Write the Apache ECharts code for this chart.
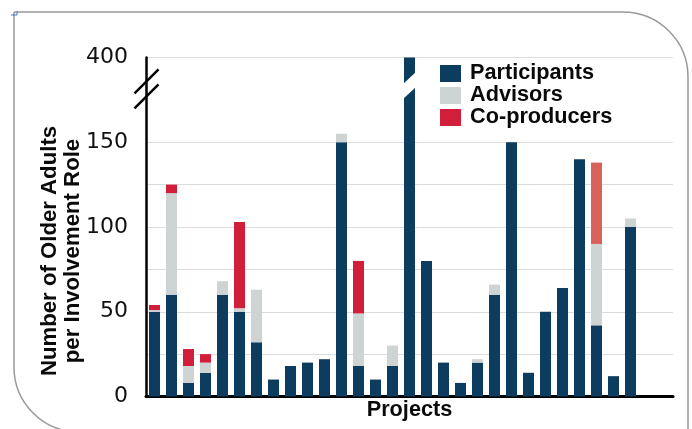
<!DOCTYPE html>
<html>
<head>
<meta charset="utf-8">
<script src="https://cdn.jsdelivr.net/npm/echarts@6/dist/echarts.min.js"></script>
<style>
html,body{margin:0;padding:0;background:#fff;}
#chart{width:692px;height:429px;}
</style>
</head>
<body>
<div id="chart"></div>
<script>
// ---- data ----
const categories = ['P1','P2','P3','P4','P5','P6','P7','P8','P9','P10','P11','P12','P13','P14','P15','P16','P17','P18','P19','P20','P21','P22','P23','P24','P25','P26','P27','P28','P29',' ','  '];
const participants = [50,60,8,14,60,50,32,10,18,20,22,150,18,10,18,400,80,20,8,20,60,150,14,50,64,140,42,12,100,null,null];
const advisors     = [1,60,10,6,8,2,31,0,0,0,0,5,31,0,12,0,0,0,0,2,6,0,0,0,0,0,48,0,5,null,null];
const coproducers  = [3,5,10,5,0,51,0,0,0,0,0,0,31,0,0,0,0,0,0,0,0,0,0,0,0,0,48,0,0,null,null];
const seriesNames = ['Participants','Advisors','Co-producers'];
const yTickValues = [0,50,100,150,400];
const yTickLabels = ['0','50','100','150','400'];
const lightCoproducerIndex = 26;

// ---- broken axis mapping: 0..150 linear, 150..400 compressed into 150..200 ----
const BREAK_AT = 150, AXIS_TOP = 200, REAL_TOP = 400;
function toAxis(v){ if(v==null) return v; return v<=BREAK_AT ? v : BREAK_AT + (v-BREAK_AT)*(AXIS_TOP-BREAK_AT)/(REAL_TOP-BREAK_AT); }
function toReal(a){ return a<=BREAK_AT ? a : BREAK_AT + (a-BREAK_AT)*(REAL_TOP-BREAK_AT)/(AXIS_TOP-BREAK_AT); }

const colors = { navy:'#0c3d5f', gray:'#ced3d3', red:'#d11f3b', salmon:'#d9615a' };
const chart = echarts.init(document.getElementById('chart'), null, {renderer:'canvas'});

const gridLineColors = ['#dcdcdc','#dcdcdc','#dcdcdc','#dcdcdc','#dcdcdc','#dcdcdc','#dcdcdc','rgba(0,0,0,0)','#dcdcdc'];
const boldFont = 'Liberation Sans, Arial, sans-serif';

const option = {
  animation:false,
  color:[colors.navy, colors.gray, colors.red],
  grid:{left:146, right:19, top:57.5, bottom:32.5, containLabel:false},
  legend:{
    data:seriesNames, orient:'vertical', left:440, top:62.5, padding:0,
    itemWidth:21, itemHeight:17, itemGap:0, icon:'rect',
    textStyle:{fontFamily:boldFont, fontWeight:'bold', fontSize:21.7, color:'#0a0a0a', lineHeight:22, padding:[0,0,0,4]}
  },
  xAxis:{
    type:'category', data:categories,
    axisTick:{show:false}, axisLabel:{show:false},
    axisLine:{lineStyle:{color:'#000', width:3}},
    name:'Projects', nameLocation:'middle', nameGap:3,
    nameTextStyle:{fontFamily:boldFont, fontWeight:'bold', fontSize:21.7, color:'#0a0a0a'}
  },
  yAxis:{
    type:'value', min:0, max:AXIS_TOP, interval:25,
    axisLine:{show:true, lineStyle:{color:'#000', width:2.5}},
    axisTick:{show:false},
    splitLine:{show:true, lineStyle:{color:gridLineColors, width:1}},
    axisLabel:{
      margin:18, fontFamily:'DejaVu Sans, sans-serif', fontSize:22, color:'#111',
      formatter:function(v){ const r = toReal(v); const i = yTickValues.indexOf(r); return i>=0 ? yTickLabels[i] : ''; }
    }
  },
  series:[
    {name:seriesNames[0], type:'bar', stack:'t', barWidth:11, data:participants.map(toAxis), itemStyle:{color:colors.navy}},
    {name:seriesNames[1], type:'bar', stack:'t', barWidth:11, data:advisors, itemStyle:{color:colors.gray}},
    {name:seriesNames[2], type:'bar', stack:'t', barWidth:11,
      data:coproducers.map((v,i)=> i===lightCoproducerIndex ? {value:v, itemStyle:{color:colors.salmon}} : v),
      itemStyle:{color:colors.red}}
  ]
};
chart.setOption(option);

// ---- decorations: frame, axis break slashes, bar break gap ----
const graphics = [];
graphics.push({type:'rect', silent:true, z:-1, shape:{x:14, y:12, width:674, height:420, r:[0,65,0,65]}, style:{fill:'none', stroke:'#9a9a9a', lineWidth:1.5}});
graphics.push({type:'polyline', silent:true, shape:{points:[[11,15],[17,15],[17,11]]}, style:{stroke:'#4a6fd8', lineWidth:1, fill:'none'}});

// axis break marks on y axis
const axisBreakVal = 181.5;
const p0 = chart.convertToPixel({xAxisIndex:0, yAxisIndex:0}, [0, axisBreakVal]);
const axisX = chart.convertToPixel({xAxisIndex:0, yAxisIndex:0}, [0, 0])[0] - 8.5 + 0.5;
const yc = p0[1];
graphics.push({type:'line', silent:true, z:10, shape:{x1:axisX-12, y1:yc+4.5, x2:axisX+12, y2:yc-19.5}, style:{stroke:'#000', lineWidth:2.5}});
graphics.push({type:'line', silent:true, z:10, shape:{x1:axisX-12, y1:yc+19.5, x2:axisX+12, y2:yc-4.5}, style:{stroke:'#000', lineWidth:2.5}});

// bar break gap for bars exceeding break
participants.forEach((v,i)=>{
  if(v!=null && v>BREAK_AT){
    const c = chart.convertToPixel({xAxisIndex:0, yAxisIndex:0}, [i, 183.5]);
    const cx = c[0], cy = c[1];
    graphics.push({type:'polygon', silent:true, z:10, shape:{points:[[cx-7,cy-1],[cx+7,cy-14],[cx+7,cy+1],[cx-7,cy+14]]}, style:{fill:'#fff'}});
  }
});

// y axis name (two lines, rotated)
graphics.push({type:'text', silent:true, x:61, y:251, rotation:Math.PI/2,
  style:{text:'Number of Older Adults\nper Involvement Role', fontFamily:boldFont, fontWeight:'bold', fontSize:22.2, lineHeight:23, fill:'#0a0a0a', align:'center', verticalAlign:'middle'}});

chart.setOption({graphic:graphics});
</script>
</body>
</html>
